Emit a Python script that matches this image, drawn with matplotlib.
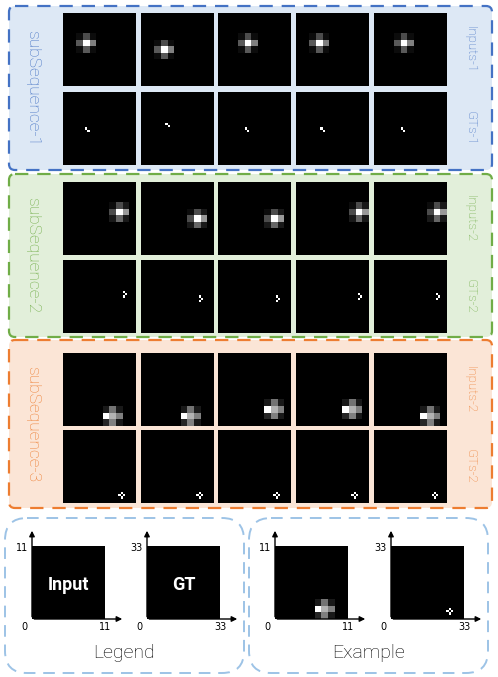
import numpy as np
import matplotlib
matplotlib.use('Agg')
import matplotlib.pyplot as plt
from matplotlib.patches import FancyBboxPatch, Rectangle

FONT = ['Roboto', 'DejaVu Sans']

# blob centres (row, col) in the 11x11 inputs, per subsequence, 5 frames
input_centres = [
    [(4, 3), (5, 3), (4, 4), (4, 3), (4, 4)],
    [(4, 8), (5, 8), (5, 8), (4, 9), (4, 9)],
    [(9, 7), (9, 7), (8, 8), (8, 8), (9, 8)],
]
# GT marker positions (row, col) in the 33x33 targets
gt_points = [
    [(16, 10), (14, 11), (16, 12), (16, 11), (16, 12)],
    [(14, 27), (16, 26), (16, 26), (15, 28), (15, 28)],
    [(28, 25), (28, 25), (28, 25), (28, 25), (28, 26)],
]
# blob shape templates (3 subsequences)
kernels = [
    np.array([[0.05, 0.3, 0.05], [0.35, 1.0, 0.5], [0.05, 0.35, 0.05]]),
    np.array([[0.05, 0.3, 0.1], [0.3, 1.0, 0.6], [0.1, 0.4, 0.1]]),
    np.array([[0.1, 0.45, 0.1], [1.0, 0.7, 0.5], [0.15, 0.5, 0.1]]),
]
gt_marks = [
    [(0, 0), (1, 1)],
    [(0, 0), (1, 1), (2, 0)],
    [(0, 1), (1, 0), (1, 2), (2, 1)],
]
sub_labels = ['subSequence-1', 'subSequence-2', 'subSequence-3']
in_labels = ['Inputs-1', 'Inputs-2', 'Inputs-2']
gt_labels = ['GTs-1', 'GTs-2', 'GTs-2']
edge_cols = ['#4472c4', '#70ad47', '#ed7d31']
fill_cols = ['#dde8f5', '#e2efda', '#fbe5d6']
text_cols = ['#4472c4', '#70ad47', '#ed7d31']

col_x = [63, 141, 218, 296, 374]
row_y = [(13, 92), (182, 260), (353, 430)]
panel_y = [(6, 170), (174, 337), (340, 508)]
S = 73


def make_input(centre, k):
    img = np.zeros((11, 11))
    r, c = centre
    for i in range(3):
        for j in range(3):
            rr, cc = r - 1 + i, c - 1 + j
            if 0 <= rr < 11 and 0 <= cc < 11:
                img[rr, cc] = k[i, j]
    return img


def make_gt(pt, mark):
    img = np.zeros((33, 33))
    for dr, dc in mark:
        rr, cc = pt[0] + dr, pt[1] + dc
        if 0 <= rr < 33 and 0 <= cc < 33:
            img[rr, cc] = 1
    return img


fig = plt.figure(figsize=(4.98, 6.77), dpi=100)
ax = fig.add_axes([0, 0, 1, 1])
ax.set_xlim(0, 498)
ax.set_ylim(677, 0)
ax.axis('off')

for s in range(3):
    y0, y1 = panel_y[s]
    ax.add_patch(FancyBboxPatch((9, y0), 483, y1 - y0, boxstyle='round,pad=0,rounding_size=6',
                                fc=fill_cols[s], ec=edge_cols[s], ls=(0, (6, 4)), lw=1.6, zorder=1))
    ax.text(33, (y0 + y1) / 2, sub_labels[s], rotation=-90, ha='center', va='center',
            fontsize=12.5, color=text_cols[s], family=FONT, fontweight='light')
    ry_in, ry_gt = row_y[s]
    ax.text(470, ry_in + S / 2, in_labels[s], rotation=-90, ha='center', va='center',
            fontsize=9.5, color=text_cols[s], family=FONT, fontweight='light')
    ax.text(470, ry_gt + S / 2, gt_labels[s], rotation=-90, ha='center', va='center',
            fontsize=9.5, color=text_cols[s], family=FONT, fontweight='light')
    for f in range(5):
        x = col_x[f]
        ax.imshow(make_input(input_centres[s][f], kernels[s]), cmap='gray', vmin=0, vmax=1,
                  extent=(x, x + S, ry_in + S, ry_in), interpolation='nearest', zorder=2)
        ax.imshow(make_gt(gt_points[s][f], gt_marks[s]), cmap='gray', vmin=0, vmax=1,
                  extent=(x, x + S, ry_gt + S, ry_gt), interpolation='nearest', zorder=2)

# legend / example boxes
for bx, title in [(5, 'Legend'), (249, 'Example')]:
    ax.add_patch(FancyBboxPatch((bx, 518), 239, 155, boxstyle='round,pad=0,rounding_size=22',
                                fc='none', ec='#9dc3e6', ls=(0, (6, 4)), lw=1.4, zorder=1))
    ax.text(bx + 119, 653, title, ha='center', va='center', fontsize=14, family=FONT,
            fontweight='light')

axes_spec = [(32, '11', 'Input', None), (147, '33', 'GT', None),
             (275, '11', None, 'in'), (391, '33', None, 'gt')]
for x, lim, label, kind in axes_spec:
    y = 546
    if kind == 'in':
        ax.imshow(make_input(input_centres[2][0], kernels[2]), cmap='gray', vmin=0, vmax=1,
                  extent=(x, x + S, y + S, y), interpolation='nearest', zorder=2)
    elif kind == 'gt':
        ax.imshow(make_gt(gt_points[2][0], gt_marks[2]), cmap='gray', vmin=0, vmax=1,
                  extent=(x, x + S, y + S, y), interpolation='nearest', zorder=2)
    else:
        ax.add_patch(Rectangle((x, y), S, S, fc='black', ec='none', zorder=2))
        ax.text(x + S / 2, y + S / 2 + 2, label, ha='center', va='center', color='white',
                fontsize=13, fontweight='bold', family=FONT, zorder=3)
    ax.annotate('', xy=(x, 528), xytext=(x, y + S + 0.5),
                arrowprops=dict(arrowstyle='-|>', color='black', lw=1, mutation_scale=8), zorder=3)
    ax.annotate('', xy=(x + S + 20, y + S), xytext=(x - 0.5, y + S),
                arrowprops=dict(arrowstyle='-|>', color='black', lw=1, mutation_scale=8), zorder=3)
    ax.text(x - 4, y + 2, lim, ha='right', va='center', fontsize=7)
    ax.text(x - 8, y + S + 8, '0', ha='center', va='center', fontsize=7)
    ax.text(x + S, y + S + 8, lim, ha='center', va='center', fontsize=7)

fig.savefig('out.png', dpi=100)
